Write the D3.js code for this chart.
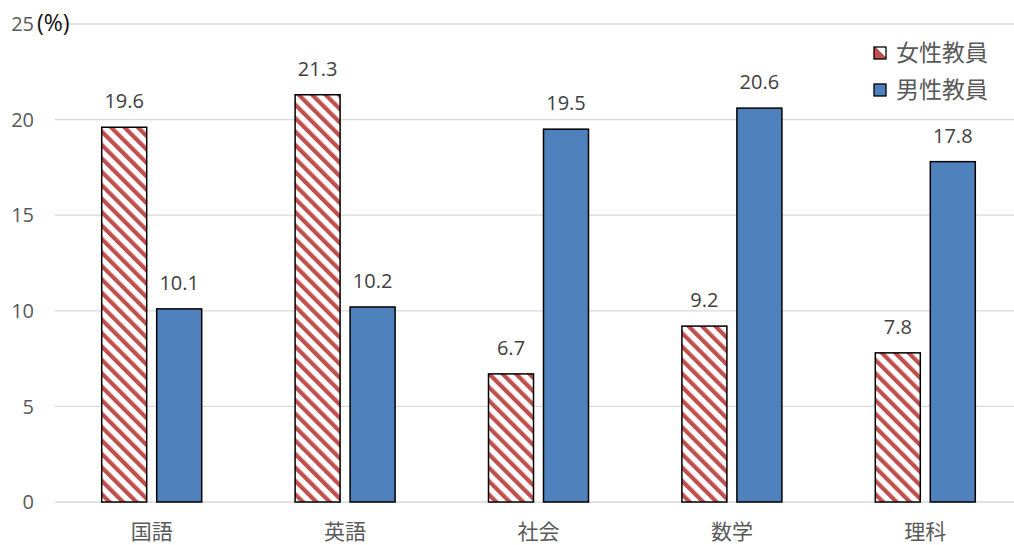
<!DOCTYPE html>
<html><head><meta charset="utf-8">
<script src="https://cdn.jsdelivr.net/npm/d3@7"></script>
<style>body{margin:0;background:#fff}svg{display:block}text{font-family:"Open Sans","Noto Sans CJK JP",sans-serif}</style>
</head><body><svg id="c" width="1014" height="545"></svg>
<script>
const categories = ["国語","英語","社会","数学","理科"];
const seriesNames = ["女性教員","男性教員"];
const female = [19.6,21.3,6.7,9.2,7.8];
const male = [10.1,10.2,19.5,20.6,17.8];
const yTicks = [0,5,10,15,20,25];

const svg = d3.select("#c");
const defs = svg.append("defs");
const pat = defs.append("pattern").attr("id","hatch").attr("patternUnits","userSpaceOnUse")
  .attr("width",9.5).attr("height",9.5).attr("patternTransform","rotate(-45)");
pat.append("rect").attr("width",9.5).attr("height",9.5).attr("fill","#fff");
pat.append("rect").attr("x",0).attr("width",4.2).attr("height",9.5).attr("fill","#C0504D");
const pl = defs.append("linearGradient").attr("id","hatchL").attr("x1",1).attr("y1",0).attr("x2",0).attr("y2",1);
pl.append("stop").attr("offset","0.45").attr("stop-color","#fff");
pl.append("stop").attr("offset","0.45").attr("stop-color","#C0504D");

const x = d3.scaleBand().domain(categories).range([55,1022]);
const x1 = d3.scaleBand().domain(seriesNames).range([0,100]).paddingInner(0.1818);
const y = d3.scaleLinear().domain([0,25]).range([502,24]);

// grid
svg.append("g").selectAll("line").data(yTicks).join("line")
  .attr("x1",55).attr("x2",1014).attr("y1",d=>y(d)).attr("y2",d=>y(d))
  .attr("stroke","#d9d9d9").attr("stroke-width",1.3);

// y tick labels
svg.append("g").selectAll("text").data(yTicks).join("text")
  .attr("x",34).attr("y",d=>y(d)).attr("dy","0.36em").attr("text-anchor","end")
  .attr("font-size",20).attr("fill","#595959").text(d=>d);
svg.append("text").attr("x",37).attr("y",31).attr("font-size",23).attr("fill","#111").text("(%)");

const data = categories.map((c,i)=>({c, vals:[{s:seriesNames[0],v:female[i]},{s:seriesNames[1],v:male[i]}]}));
const groups = svg.append("g").selectAll("g").data(data).join("g")
  .attr("transform",d=>`translate(${x(d.c)+x.bandwidth()/2-50},0)`);
groups.selectAll("rect").data(d=>d.vals).join("rect")
  .attr("x",d=>x1(d.s)).attr("width",x1.bandwidth())
  .attr("y",d=>y(d.v)).attr("height",d=>y(0)-y(d.v))
  .attr("fill",d=>d.s===seriesNames[0]?"url(#hatch)":"#4F81BD")
  .attr("stroke","#000").attr("stroke-width",1.5);
groups.selectAll("text").data(d=>d.vals).join("text")
  .attr("x",d=>x1(d.s)+x1.bandwidth()/2).attr("y",d=>y(d.v)-19)
  .attr("text-anchor","middle").attr("font-size",20).attr("fill","#404040")
  .text(d=>d.v.toFixed(1));

// category labels
svg.append("g").selectAll("text").data(categories).join("text")
  .attr("x",d=>x(d)+x.bandwidth()/2).attr("y",531).attr("dy","0.36em").attr("text-anchor","middle")
  .attr("font-size",21).attr("fill","#595959").text(d=>d);

// legend
const lg = svg.append("g").selectAll("g").data(seriesNames).join("g")
  .attr("transform",(d,i)=>`translate(874,${47+i*37})`);
lg.append("rect").attr("width",12).attr("height",12)
  .attr("fill",(d,i)=>i===0?"url(#hatchL)":"#4F81BD").attr("stroke","#000").attr("stroke-width",1.3);
lg.append("text").attr("x",22).attr("y",6).attr("dy","0.36em").attr("font-size",23)
  .attr("fill","#595959").text(d=>d);
</script></body></html>
